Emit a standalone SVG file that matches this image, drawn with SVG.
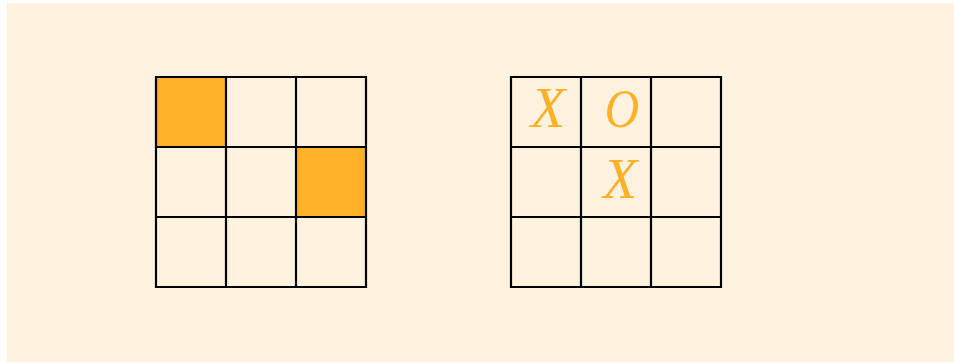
<svg xmlns="http://www.w3.org/2000/svg" width="954" height="362" viewBox="0 0 954 362">
<style>
.cell{fill:none;stroke:#000;stroke-width:2.2;stroke-linecap:square}
.on{fill:#FFB129}
.mark{font-family:"Liberation Serif",serif;font-style:italic;font-size:56px;fill:#FFB129;text-anchor:middle}
</style>
<rect x="7" y="3" width="947" height="359" fill="#FFF2DE"/>
<g id="board-left">
<rect class="on" x="156" y="77" width="70" height="70"/>
<rect class="on" x="296" y="147" width="70" height="70"/>
<path class="cell" d="M156 77H366M156 147H366M156 217H366M156 287H366M156 77V287M226 77V287M296 77V287M366 77V287"/>
</g>
<g id="board-right">
<path class="cell" d="M511 77H721M511 147H721M511 217H721M511 287H721M511 77V287M581 77V287M651 77V287M721 77V287"/>
<text class="mark" x="548" y="127">X</text>
<text class="mark" x="622" y="127" transform="translate(622 0) scale(0.85 1) translate(-622 0)">O</text>
<text class="mark" x="620" y="198">X</text>
</g>
<g id="connectors"/>
</svg>
